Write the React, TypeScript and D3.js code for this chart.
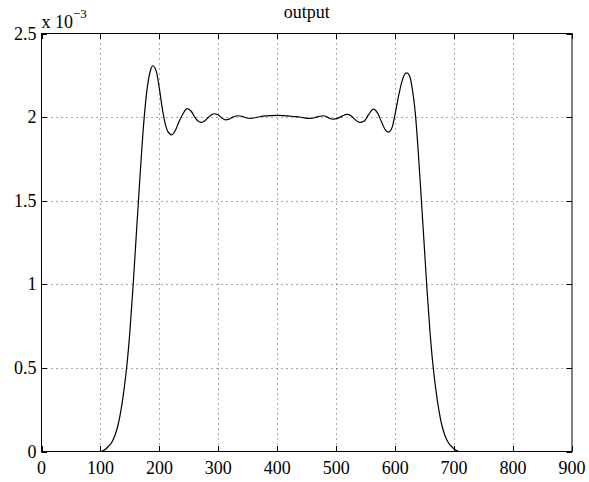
import * as d3 from "d3";
import { useEffect, useRef } from "react";

// sample positions (x) and output values (in units of 1e-3)
const xs = [
  0, 100, 105, 110, 115, 120, 125, 130, 135, 140, 145, 150, 155, 160, 165, 170, 175, 180, 185, 189,
  195, 200, 205, 210, 215, 221, 227, 233, 240, 247, 254, 260, 265, 271, 277, 283, 288, 293, 300, 306,
  312, 318, 325, 332, 340, 347, 354, 362, 370, 380, 390, 400, 410, 420, 430, 440, 448, 456, 465, 472,
  478, 485, 490, 495, 502, 510, 518, 525, 532, 540, 547, 555, 563, 570, 577, 583, 589, 595, 600, 606,
  612, 617, 620, 624, 629, 634, 639, 644, 649, 654, 659, 664, 669, 674, 679, 684, 689, 694, 699, 704,
  709, 900,
];
const ys = [
  0, 0, 0.006, 0.018, 0.036, 0.06, 0.1, 0.16, 0.25, 0.37, 0.52, 0.72, 0.97, 1.25, 1.53, 1.8, 2.03, 2.19, 2.28, 2.307,
  2.27, 2.17, 2.05, 1.96, 1.91, 1.894, 1.92, 1.97, 2.02, 2.051, 2.035, 2.0, 1.978, 1.968, 1.978, 1.998, 2.012, 2.02, 2.012, 1.995,
  1.984, 1.988, 2.0, 2.008, 2.005, 1.996, 1.992, 1.996, 2.002, 2.007, 2.009, 2.01, 2.009, 2.006, 2.003, 1.999, 1.994, 1.992, 1.998, 2.005,
  2.008, 2.0, 1.99, 1.988, 1.992, 2.006, 2.016, 2.008, 1.985, 1.968, 1.975, 2.015, 2.048, 2.025, 1.97, 1.925, 1.91, 1.94, 2.02, 2.13,
  2.22, 2.26, 2.265, 2.25, 2.17, 2.03, 1.8, 1.53, 1.25, 0.97, 0.72, 0.52, 0.37, 0.25, 0.16, 0.1, 0.06, 0.036, 0.018, 0.006,
  0, 0,
];

const xTicks = [0, 100, 200, 300, 400, 500, 600, 700, 800, 900];
const yTicks = [0, 0.5, 1, 1.5, 2, 2.5];

export default function App() {
  const svgRef = useRef<SVGSVGElement>(null);
  const width = 589;
  const height = 482;
  const marginLeft = 41.5;
  const marginRight = 17;
  const marginTop = 33.5;
  const marginBottom = 30.5;

  useEffect(() => {
    const svg = d3.select(svgRef.current);
    svg.selectAll("*").remove();

    const x = d3.scaleLinear().domain([0, 900]).range([marginLeft, width - marginRight]);
    const y = d3.scaleLinear().domain([0, 2.5]).range([height - marginBottom, marginTop]);
    const font = "'Liberation Serif', 'Times New Roman', serif";
    const x0 = x.range()[0], x1 = x.range()[1];
    const y0 = y.range()[0], y1 = y.range()[1];

    svg.append("rect").attr("width", width).attr("height", height).attr("fill", "white");

    // grid
    const grid = svg.append("g")
      .attr("stroke", "#555")
      .attr("stroke-width", 1)
      .attr("stroke-dasharray", "1,4");
    grid.selectAll(".gx")
      .data(xTicks.slice(1, -1))
      .enter()
      .append("line")
      .attr("x1", d => Math.round(x(d)) + 0.5)
      .attr("x2", d => Math.round(x(d)) + 0.5)
      .attr("y1", y1)
      .attr("y2", y0);
    grid.selectAll(".gy")
      .data(yTicks.slice(1, -1))
      .enter()
      .append("line")
      .attr("x1", x0)
      .attr("x2", x1)
      .attr("y1", d => Math.round(y(d)) + 0.5)
      .attr("y2", d => Math.round(y(d)) + 0.5);

    // curve
    const line = d3.line<number>()
      .x((d, i) => x(xs[i]))
      .y(d => y(d))
      .curve(d3.curveMonotoneX);
    svg.append("path")
      .attr("d", line(ys))
      .attr("fill", "none")
      .attr("stroke", "black")
      .attr("stroke-width", 1.2);

    // box
    svg.append("rect")
      .attr("x", x0)
      .attr("y", y1)
      .attr("width", x1 - x0)
      .attr("height", y0 - y1)
      .attr("fill", "none")
      .attr("stroke", "black")
      .attr("stroke-width", 1);

    // ticks pointing inward, both sides
    const tl = 5.5;
    const ticks = svg.append("g").attr("stroke", "black").attr("stroke-width", 1);
    xTicks.forEach(d => {
      const px = Math.round(x(d)) + 0.5;
      ticks.append("line").attr("x1", px).attr("x2", px).attr("y1", y0).attr("y2", y0 - tl);
      ticks.append("line").attr("x1", px).attr("x2", px).attr("y1", y1).attr("y2", y1 + tl);
    });
    yTicks.forEach(d => {
      const py = Math.round(y(d)) + 0.5;
      ticks.append("line").attr("x1", x0).attr("x2", x0 + tl).attr("y1", py).attr("y2", py);
      ticks.append("line").attr("x1", x1).attr("x2", x1 - tl).attr("y1", py).attr("y2", py);
    });

    // tick labels
    svg.selectAll(".xl")
      .data(xTicks)
      .enter()
      .append("text")
      .attr("x", d => x(d))
      .attr("y", y0 + 22)
      .attr("text-anchor", "middle")
      .attr("font-family", font)
      .attr("font-size", 18)
      .text(d => d);
    svg.selectAll(".yl")
      .data(yTicks)
      .enter()
      .append("text")
      .attr("x", x0 - 5)
      .attr("y", d => y(d) + 6)
      .attr("text-anchor", "end")
      .attr("font-family", font)
      .attr("font-size", 18)
      .text(d => d);

    // exponent
    const exp = svg.append("text")
      .attr("x", x0)
      .attr("y", 28)
      .attr("font-family", font)
      .attr("font-size", 18);
    exp.append("tspan").text("x 10");
    exp.append("tspan").attr("dy", -10).attr("font-size", 13).text("\u22123");

    // title
    svg.append("text")
      .attr("x", (x0 + x1) / 2)
      .attr("y", 18)
      .attr("text-anchor", "middle")
      .attr("font-family", font)
      .attr("font-size", 18)
      .text("output");
  }, []);

  return (
    <svg
      ref={svgRef}
      width={width}
      height={height}
      style={{ position: "absolute", left: 0, top: 0 }}
    />
  );
}
